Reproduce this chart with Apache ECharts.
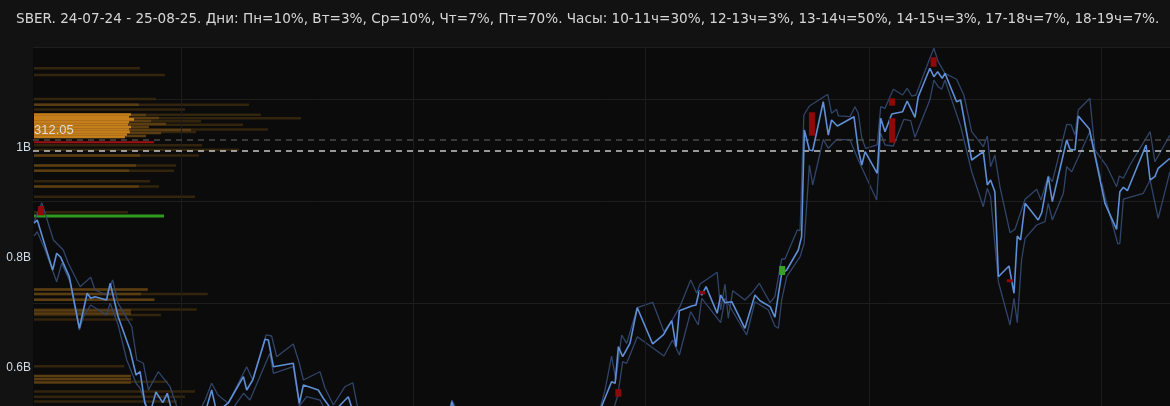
<!DOCTYPE html>
<html><head><meta charset="utf-8">
<script src="https://cdn.jsdelivr.net/npm/echarts@6/dist/echarts.min.js"></script>
<style>html,body{margin:0;padding:0;background:#121212;}#c{width:1170px;height:406px;}</style>
</head><body><div id="c"></div>
<script>
// ---- data (x = day index, y = price) ----
const titleText = 'SBER. 24-07-24 - 25-08-25. Дни: Пн=10%, Вт=3%, Ср=10%, Чт=7%, Пт=70%. Часы: 10-11ч=30%, 12-13ч=3%, 13-14ч=50%, 14-15ч=3%, 17-18ч=7%, 18-19ч=7%.';
const closeData = [[0.4,295.71],[1.7,296.35],[4.1,292.44],[7.8,286.58],[9.4,289.84],[11.0,289.06],[14.4,285.27],[18.4,275.19],[21.5,282.03],[22.9,281.05],[24.6,281.36],[29.2,280.72],[30.6,283.98],[33.8,277.45],[38.5,270.94],[40.9,266.06],[42.5,266.70],[44.4,260.53],[46.4,258.5],[48.8,262.74],[51.5,260.65],[53.3,262.48],[55.2,258.8],[60.3,253.4],[66.3,255.3],[70.9,263.13],[72.9,258.8],[77.5,260.59],[83.5,265.73],[84.8,263.13],[87.2,265.08],[92.1,273.04],[93.4,272.90],[95.4,267.68],[103.3,268.35],[105.7,260.53],[107.3,264.10],[113.2,263.13],[115.2,261.51],[119.2,258.8],[125.1,261.82],[127.1,258.8],[133.7,247.5],[141.7,237.7],[149.6,241.6],[157.5,230],[163.5,253.4],[166.2,260.84],[167.9,258.2],[173.4,247.5],[185.3,230],[197.2,218.2],[207.1,230],[217,241.6],[223,253.4],[225.7,260.0],[229.6,264.75],[231,264.43],[232.3,271.59],[234.0,269.64],[236.9,272.25],[239.8,279.21],[245.9,272.12],[250.1,273.88],[253.5,276.67],[255.2,271.59],[256.5,278.62],[261.4,279.54],[263.1,279.74],[264.4,282.53],[265.4,281.69],[267.1,283.32],[271.5,278.12],[272.9,281.69],[274.6,280.19],[277.3,280.38],[282.5,275.19],[286.5,281.69],[288.5,280.58],[292.5,279.41],[294.4,277.34],[297.1,285.93],[299.1,286.58],[303.7,290.49],[305.0,293.09],[306.1,313.94],[308.1,310.03],[309.4,309.89],[313.6,319.47],[315.6,312.96],[316.9,315.89],[319.2,314.72],[325.8,316.54],[327.5,310.03],[328.9,307.10],[330.2,309.70],[335.0,305.48],[336.4,316.23],[338.1,313.61],[340.8,317.07],[345.1,317.52],[346.9,319.61],[350.0,316.42],[351.3,320.45],[355.9,326.00],[357.5,324.36],[359.0,325.33],[360.8,324.04],[361.9,325.02],[366.5,319.47],[368.1,319.80],[372.5,308.08],[377.1,309.70],[378.7,303.19],[380.0,304.17],[381.7,301.88],[383.1,285.27],[387.3,287.36],[389.3,282.03],[390.6,293.22],[391.9,292.44],[393.7,299.61],[398.9,296.35],[400.3,297.78],[402.9,304.81],[404.5,299.93],[410.2,311.99],[411.5,310.17],[413.5,310.03],[414.8,316.68],[419.2,314.13],[425.4,299.61],[430.0,294.53],[431.3,301.88],[432.7,302.74],[434.3,302.08],[441.7,311.01],[443.3,304.17],[445.2,304.81],[446.5,306.45],[451.2,308.41]];
const highData = [[0.4,295.96],[3.5,299.73],[8.1,292.44],[12.0,290.49],[14.0,287.89],[18.7,283.32],[22.9,285.15],[24.6,282.67],[29.2,281.69],[31.6,284.62],[33.8,280.07],[39.2,275.50],[41.2,268.99],[43.8,268.35],[45.8,263.13],[49.7,266.70],[54.4,263.77],[57.0,260.0],[62.3,255.3],[68.3,261.17],[70.9,264.44],[73.4,262.15],[77.5,260.53],[84.8,267.68],[87.2,265.08],[92.5,273.88],[94.7,273.68],[96.7,269.64],[103.3,272.12],[105.7,268.35],[107.3,265.08],[113.9,266.70],[115.9,263.46],[119.2,260.20],[123.8,263.77],[126.9,264.55],[128.5,260.53],[134.5,249.5],[142.5,241.6],[150.4,245.5],[158.3,233.8],[163.9,255.3],[166.2,261.17],[168.3,259.2],[174.2,249.5],[186.1,231.9],[198,222.1],[207.9,233.8],[217.9,245.5],[223.8,257.3],[227,263.1],[229.6,269.77],[231.3,265.1],[233.6,273.88],[235.6,272.25],[239.8,279.21],[245.9,280.27],[250.4,274.52],[253.5,276.67],[256.7,279.41],[261.0,284.62],[263.4,282.03],[264.7,283.84],[271.5,286.13],[272.9,278.76],[274.6,283.84],[275.9,277.14],[277.7,282.53],[282.5,280.72],[285.2,282.03],[288.2,283.98],[292.5,280.19],[294.4,281.36],[297.1,288.73],[298.4,288.73],[303.3,294.40],[304.4,294.26],[305.9,316.87],[308.1,318.63],[315.4,320.92],[316.9,317.20],[318.9,317.98],[319.6,316.68],[324.2,316.54],[326.2,318.49],[327.5,317.20],[328.9,312.32],[330.4,310.36],[335.0,311.01],[336.4,318.49],[338.1,318.18],[341.4,321.89],[345.1,320.78],[346.9,322.09],[348.7,320.58],[350.4,320.78],[355.9,327.95],[357.5,329.91],[359.2,327.29],[361.9,325.02],[366.5,323.85],[369.4,320.78],[372.5,313.61],[377.1,310.68],[378.7,312.77],[380.0,306.77],[381.7,309.05],[383.7,302.86],[387.7,293.87],[389.7,294.53],[393.7,300.40],[398.3,302.35],[400.0,300.26],[402.9,304.95],[404.5,303.84],[410.2,315.05],[412.0,314.92],[413.5,312.96],[414.8,317.85],[419.4,320.13],[421.4,310.03],[426.1,306.90],[430.0,302.86],[431.1,304.95],[432.7,304.50],[435.3,307.10],[443.3,313.61],[445.2,307.74],[451.2,312.96]];
const lowData = [[0.4,293.22],[1.7,294.06],[4.8,290.49],[9.4,284.29],[11.4,287.89],[14.7,284.29],[18.4,274.85],[20.0,277.45],[22.9,279.74],[29.2,277.78],[30.6,280.07],[33.8,275.83],[37.2,268.99],[40.9,264.44],[42.5,263.46],[45.1,260.0],[48.4,257.3],[52.4,258.8],[56.3,255.3],[62.3,249.5],[70.2,253.4],[76.2,257.3],[83.5,262.48],[86.1,261.17],[94.0,270.30],[95.4,266.39],[103.3,267.68],[105.7,260.0],[108.6,261.82],[113.9,261.17],[117.9,257.3],[125,259.6],[129.8,245.5],[141.7,233.8],[149.6,237.7],[157.5,226],[165.5,255.3],[167.9,256.3],[173.4,243.6],[185.3,226],[197.2,214.3],[207.1,226],[217,237.7],[225,249.4],[230.9,260.20],[232.1,262.15],[234.0,268.66],[235.6,268.35],[239.8,273.54],[250.4,269.77],[253.8,272.90],[256.5,269.97],[261.0,278.43],[264.0,275.83],[265.4,281.05],[272.9,276.28],[274.6,281.05],[283.2,273.88],[286.5,280.38],[291.8,278.76],[294.4,275.64],[295.8,275.19],[297.1,280.72],[299.1,285.27],[304.4,289.18],[306.0,291.80],[308.1,307.10],[309.4,303.19],[313.6,312.12],[315.6,310.36],[319.0,312.12],[324.2,311.99],[327.5,308.08],[334.8,300.26],[336.4,313.29],[338.1,311.01],[341.4,310.81],[345.6,316.03],[348.3,315.76],[350.0,312.51],[355.9,319.80],[357.5,323.71],[359.2,322.40],[360.6,321.89],[361.9,323.71],[368.1,314.72],[372.5,305.79],[377.1,298.95],[378.7,302.55],[380.0,300.90],[383.1,284.29],[387.7,275.83],[389.3,281.05],[390.6,276.28],[392.3,288.53],[393.7,292.77],[398.3,295.37],[401.6,296.02],[402.9,299.61],[404.5,296.35],[408.9,301.57],[410.2,306.77],[412.2,305.79],[419.4,313.61],[425.4,300.90],[430.5,291.66],[431.3,291.80],[432.7,300.45],[440.6,301.57],[443.3,304.17],[446.5,296.68],[451.2,305.79]];
// signal candles: [day, open, close]
const redCandles = [[3.2,299.08,297.27],[232.3,263.3,261.82],[265.5,282.48,281.83],[309.1,317.40,312.83],[340.9,320.13,318.69],[340.9,316.23,311.46],[357.4,328.15,326.31],[387.6,284.76,284.18]];
const greenCandles = [[297.3,285.60,287.36]];
// volume profile: [volume, price]
const profileDim = [[93.2,326.00],[115.2,324.69],[107.3,320.00],[189.1,318.88],[132.8,317.95],[199.6,316.93],[234.8,316.23],[146.9,315.64],[183.8,314.98],[205.8,314.04],[142.5,313.55],[147.8,310.95],[180.3,310.09],[145.1,308.96],[124.9,307.00],[123.1,305.99],[102.0,303.93],[109.9,302.90],[141.6,300.88],[82.7,297.85],[100.0,282.77],[152.8,281.89],[106.4,280.78],[143.1,278.86],[111.7,277.79],[86.8,276.90],[79.4,267.76],[117.6,264.75],[141.6,262.83],[132.8,261.80],[125.8,260.88]];
const profileMid = [[92.3,318.88],[98.5,316.87],[109.9,316.28],[102.9,315.70],[116.1,315.11],[101.1,314.53],[138.1,313.94],[111.7,313.35],[98.5,312.77],[93.2,308.96],[89.7,307.00],[83.6,305.99],[92.3,302.90],[100.0,282.77],[94.1,281.89],[105.5,280.78],[85.3,278.67],[85.3,278.08],[85.3,265.86],[85.3,265.28],[85.3,264.60]];
const profileBright = [[85.3,316.97],[83.6,316.48],[87.95,316.00],[83.6,315.50],[82.7,315.01],[85.3,314.53],[83.6,314.04],[84.4,313.55],[81.8,313.06],[80.0,312.57]];
const profileRed = [[105.5,311.56]];
const pocPrice = 312.05;
const lastPrice = 309.93;
const greenLevel = [[0.4,297.13],[52.0,297.13]];
const gridDays = [58.7,150.8,242.9,331.7,423.8];
const volLabelMin = 0.6e9, volLabelMax = 1.0e9, volLabelStep = 0.2e9;

// ---- chart ----
const chart = echarts.init(document.getElementById('c'), null, {renderer:'canvas'});
const FONT = 'DejaVu Sans';
function profileSeries(data, color, h){
  return {type:'custom', xAxisIndex:1, yAxisIndex:0, z:1, silent:true, data:data,
    renderItem:function(params, api){
      const v = api.value(0), p = api.value(1);
      const a = api.coord([0, p + h/2]); const b = api.coord([v, p - h/2]);
      return {type:'rect', shape:{x:a[0]+1, y:a[1], width:b[0]-a[0], height:Math.max(1.5,b[1]-a[1])}, style:{fill:color}};
    }};
}
function candleSeries(data, color){
  return {type:'custom', xAxisIndex:0, yAxisIndex:0, z:6, silent:true, data:data,
    renderItem:function(params, api){
      const t = api.value(0);
      const a = api.coord([t, api.value(1)]), b = api.coord([t, api.value(2)]);
      const y0 = Math.min(a[1], b[1]); const hh = Math.max(3, Math.abs(a[1]-b[1]));
      return {type:'rect', shape:{x:a[0]-3, y:y0, width:6, height:hh}, style:{fill:color}};
    }};
}
const option = {
  backgroundColor:'#121212',
  animation:false,
  title:{text:titleText, left:11, top:7, textStyle:{color:'#d6d6d6', fontSize:13.6, fontWeight:'normal', fontFamily:FONT}},
  grid:[
    {left:33, right:0, top:47, bottom:0, show:true, backgroundColor:'#0b0b0b', borderWidth:0},
    {left:33, right:0, top:148, height:220, show:false}
  ],
  xAxis:[
    {type:'value', gridIndex:0, min:0, max:451.2, show:false},
    {type:'value', gridIndex:0, min:0, max:1000, show:false},
    {type:'value', gridIndex:1, min:0, max:1, show:false}
  ],
  yAxis:[
    {type:'value', gridIndex:0, min:260, max:330.16, interval:20,
      axisLine:{show:false}, axisTick:{show:false}, axisLabel:{show:false},
      splitLine:{show:true, lineStyle:{color:'#1e1e1e', width:1}}},
    {type:'value', gridIndex:1, min:volLabelMin, max:volLabelMax, interval:volLabelStep,
      axisLine:{show:false}, axisTick:{show:false}, splitLine:{show:false},
      axisLabel:{color:'#d2dde8', fontSize:12, fontFamily:'Liberation Sans', margin:2,
        formatter:function(v){return (Math.round(v/1e8)/10)+'B';}}}
  ],
  series:[
    {type:'line', xAxisIndex:0, yAxisIndex:0, data:[], z:0, silent:true,
      markLine:{silent:true, symbol:'none', label:{show:false},
        lineStyle:{color:'#1c1c1c', width:1, type:'solid'},
        data:gridDays.map(function(d){return {xAxis:d};})}},
    profileSeries(profileDim, '#33250d', 0.5),
    profileSeries(profileMid, '#5a3d12', 0.5),
    profileSeries(profileBright, '#c47e1c', 0.52),
    profileSeries(profileRed, '#a01010', 0.4),
    {type:'line', xAxisIndex:0, yAxisIndex:0, data:[], z:2, silent:true,
      markLine:{silent:true, symbol:'none',
        data:[
          {yAxis:pocPrice, lineStyle:{color:'#4a4a4a', width:1.5, type:[6,5]},
            label:{show:true, position:'insideStartTop', distance:[1,3], formatter:String(pocPrice), color:'#dcdcdc', fontSize:13, fontFamily:'Liberation Sans'}},
          {yAxis:lastPrice, lineStyle:{color:'#c8c8c8', width:1.5, type:[6,5]}, label:{show:false}}
        ]}},
    {type:'line', xAxisIndex:0, yAxisIndex:0, data:greenLevel, z:3, silent:true, symbol:'none',
      lineStyle:{color:'#2e9a1e', width:3}},
    {type:'line', xAxisIndex:0, yAxisIndex:0, data:highData, z:4, symbol:'none', silent:true,
      lineStyle:{color:'#31456a', width:1.3}},
    {type:'line', xAxisIndex:0, yAxisIndex:0, data:lowData, z:4, symbol:'none', silent:true,
      lineStyle:{color:'#31456a', width:1.3}},
    {type:'line', xAxisIndex:0, yAxisIndex:0, data:closeData, z:5, symbol:'none', silent:true,
      lineStyle:{color:'#5f8fd6', width:1.6}},
    candleSeries(redCandles, '#8e0a0a'),
    candleSeries(greenCandles, '#3aa020')
  ]
};
chart.setOption(option);
</script></body></html>
